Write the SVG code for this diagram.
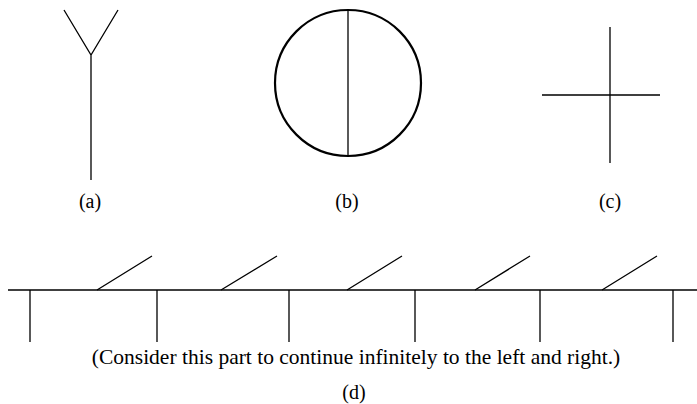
<svg xmlns="http://www.w3.org/2000/svg" width="697" height="404" viewBox="0 0 697 404">
<style>
.l{stroke:#000;stroke-width:1.3;fill:none;stroke-linecap:butt}
.t{font-family:"Liberation Serif",serif;font-size:20px;fill:#000;text-anchor:middle}
</style>
<rect width="697" height="404" fill="#fff"/>
<g id="a">
<path class="l" d="M64 10 L91 55 L118 10 M91 55 L91 180"/>
<text class="t" x="90" y="208">(a)</text>
</g>
<g id="b">
<circle cx="348" cy="83" r="73" stroke="#000" stroke-width="2.2" fill="none"/>
<path class="l" d="M348 10 L348 156"/>
<text class="t" x="347" y="208">(b)</text>
</g>
<g id="c">
<path class="l" d="M610 27 L610 163 M542 95 L660 95"/>
<text class="t" x="610" y="208">(c)</text>
</g>
<g id="d">
<path class="l" d="M8 290 L697 290"/>
<path class="l" d="M30 290 V342 M157 290 V342 M289 290 V342 M415 290 V342 M540 290 V342 M673 290 V342"/>
<path class="l" d="M97 290 L152 256 M221 290 L277 256 M347 290 L402 256 M475 290 L530 256 M602 290 L657 256"/>
<text class="t" x="356" y="364" style="font-size:21.5px">(Consider this part to continue infinitely to the left and right.)</text>
<text class="t" x="354" y="399">(d)</text>
</g>
</svg>
